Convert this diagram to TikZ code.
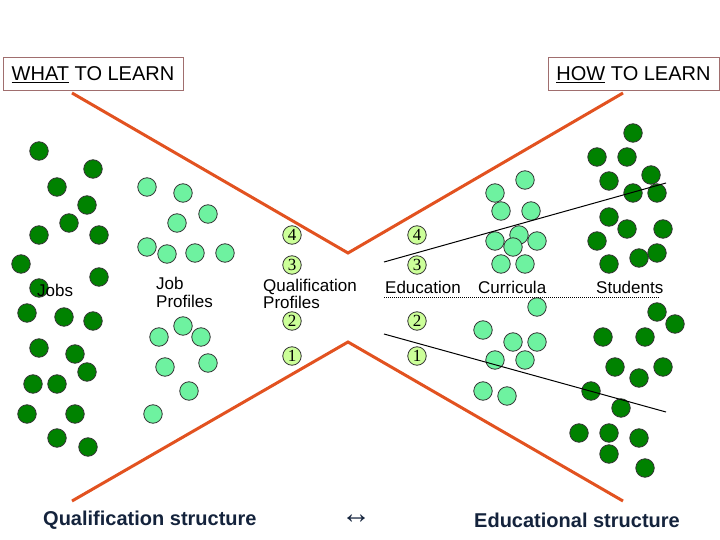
\documentclass[tikz,border=0pt]{standalone}
\usepackage{fontspec}
\setmainfont{Liberation Sans}
\newfontfamily\numfont{Liberation Serif}
\definecolor{darkdot}{RGB}{0,130,0}
\definecolor{lightdot}{RGB}{110,242,160}
\definecolor{numfill}{RGB}{204,255,153}
\definecolor{orangeline}{RGB}{226,82,32}
\definecolor{boxline}{RGB}{160,110,110}
\definecolor{navy}{RGB}{20,35,60}
\begin{document}
\begin{tikzpicture}[x=1pt,y=-1pt,
  ddot/.style={circle,minimum size=18.5pt,inner sep=0pt,fill=darkdot,draw=black!80,line width=0.8pt},
  ldot/.style={circle,minimum size=18.5pt,inner sep=0pt,fill=lightdot,draw=black!80,line width=0.8pt},
  numc/.style={circle,minimum size=18.5pt,inner sep=0pt,fill=numfill,draw=black!80,line width=0.8pt,font=\numfont\fontsize{17}{17}\selectfont},
  lbl/.style={inner sep=0pt,anchor=west,align=left,font=\fontsize{17}{17.5}\selectfont},
  hdr/.style={draw=boxline,line width=1pt,minimum width=180pt,minimum height=33pt,inner sep=0pt,font=\fontsize{20}{22}\selectfont},
  btm/.style={inner sep=0pt,anchor=west,text=navy,font=\bfseries\fontsize{20}{22}\selectfont},
  xline/.style={draw=orangeline,line width=3pt},
  thin/.style={draw=black,line width=1pt}]
\useasboundingbox (0,0) rectangle (720,540);

% header boxes
\node[hdr,minimum width=180pt] (what) at (93,74.5) {\underline{WHAT} TO LEARN};
\node[hdr,minimum width=171pt] (how) at (633.5,74.5) {\underline{HOW} TO LEARN};

% dots: jobs
\foreach \x/\y [count=\i] in {39/151,93/169,57/187,87/205,69/223,39/235,99/235,21/264,99/277,39/288,27/313,64/317,93/321,39/348,75/354,87/372,33/384,57/384,27/414,75/414,57/438,88/447}
  \node[ddot] (job\i) at (\x,\y) {};
% job profiles
\foreach \x/\y [count=\i] in {147/187,183/193,208/214,177/223,147/247,167/254,195/253,225/253,183/326,159/337,201/337,165/367,208/363,189/391,153/414}
  \node[ldot] (jp\i) at (\x,\y) {};
% curricula
\foreach \x/\y [count=\i] in {525/180,495/193,501/211,531/211,495/241,519/235,537/241,513/247,501/264,525/264,537/307,483/330,513/342,537/342,495/360,525/360,483/391,507/396}
  \node[ldot] (cur\i) at (\x,\y) {};
% students
\foreach \x/\y [count=\i] in {633/133,597/157,627/157,651/175,609/181,633/193,657/193,609/217,627/229,663/229,597/241,657/253,639/258,609/264,657/312,675/324,603/337,645/337,615/367,663/367,639/378,591/391,621/408,579/433,609/433,639/438,609/454,645/468}
  \node[ddot] (stu\i) at (\x,\y) {};

% orange X shape
\coordinate (tl) at (72,93);
\coordinate (tm) at (348,253);
\coordinate (tr) at (623,93);
\coordinate (bl) at (72,501);
\coordinate (bm) at (348,342);
\coordinate (br) at (623,501);
\draw[xline] (tl) -- (tm) -- (tr);
\draw[xline] (bl) -- (bm) -- (br);

% black lines
\coordinate (u1) at (384,262);
\coordinate (u2) at (666,183);
\coordinate (d1) at (384,297);
\coordinate (d2) at (659,297);
\coordinate (l1) at (384,334);
\coordinate (l2) at (666,412);
\draw[thin] (u1) -- (u2);
\draw[thin,densely dotted] (d1) -- (d2);
\draw[thin] (l1) -- (l2);

% number circles
\foreach \n/\y in {4/235,3/265,2/321,1/356}{
  \node[numc] (q\n) at (292,\y) {\n};
  \node[numc] (e\n) at (417,\y) {\n};
}

% labels
\node[lbl] (jobs) at (37,290) {Jobs};
\node[lbl] (jobprof) at (156,292.5) {Job\\Profiles};
\node[lbl] (qualprof) at (263,294) {Qualification\\Profiles};
\node[lbl] (edu) at (385,287) {Education};
\node[lbl] (curr) at (478,287) {Curricula};
\node[lbl] (stud) at (596,287) {Students};

% bottom
\node[btm] (qs) at (43,520) {Qualification structure};
\node[inner sep=0pt,text=navy,font=\bfseries\fontsize{30}{30}\selectfont] (arr) at (356,519) {↔};
\node[btm] (es) at (474,520) {Educational structure};
\end{tikzpicture}
\end{document}
